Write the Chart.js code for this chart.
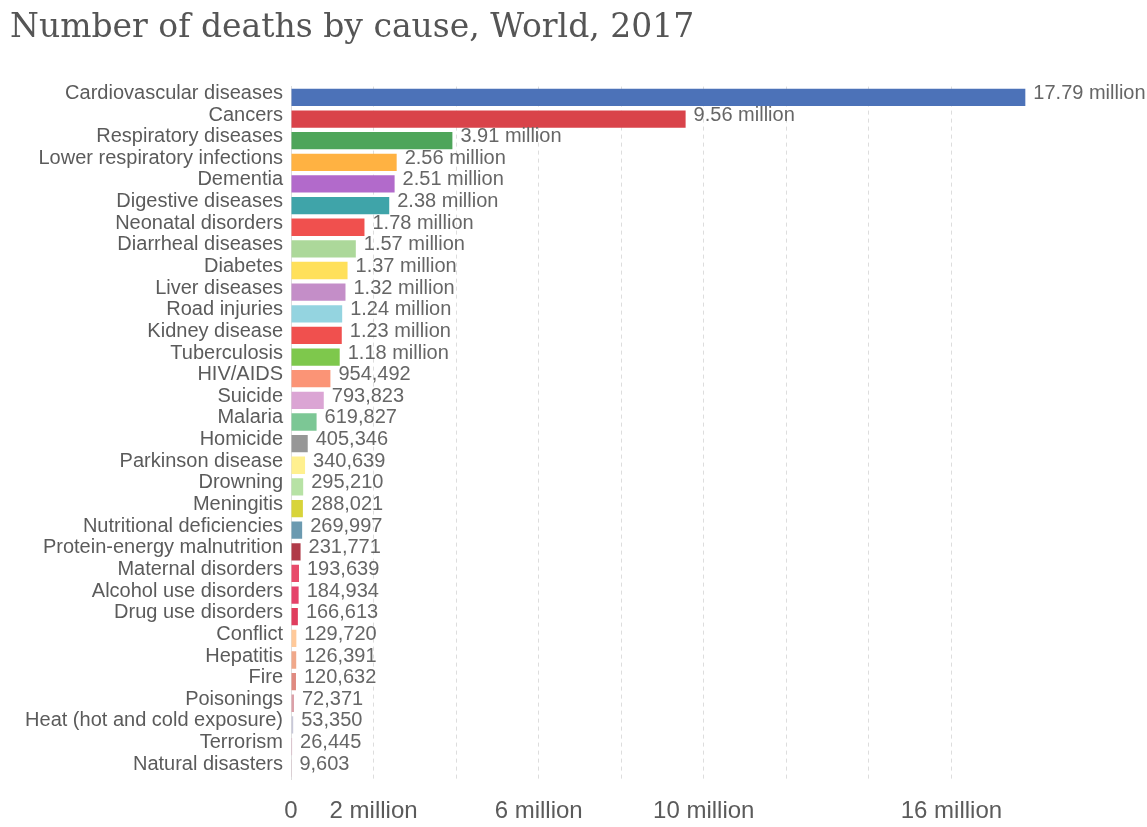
<!DOCTYPE html>
<html>
<head>
<meta charset="utf-8">
<script src="https://cdn.jsdelivr.net/npm/chart.js@4"></script>
<style>
  html, body { margin: 0; padding: 0; background: #fff; }
  #wrap { width: 1147px; height: 827px; }
</style>
</head>
<body>
<div id="wrap"><canvas id="deaths-chart"></canvas></div>
<script>
const causes = ["Cardiovascular diseases", "Cancers", "Respiratory diseases", "Lower respiratory infections",
    "Dementia", "Digestive diseases", "Neonatal disorders", "Diarrheal diseases", "Diabetes", "Liver diseases",
    "Road injuries", "Kidney disease", "Tuberculosis", "HIV/AIDS", "Suicide", "Malaria", "Homicide",
    "Parkinson disease", "Drowning", "Meningitis", "Nutritional deficiencies", "Protein-energy malnutrition",
    "Maternal disorders", "Alcohol use disorders", "Drug use disorders", "Conflict", "Hepatitis", "Fire",
    "Poisonings", "Heat (hot and cold exposure)", "Terrorism", "Natural disasters"];

const deaths = [17790000, 9560000, 3910000, 2560000, 2510000, 2380000, 1780000, 1570000, 1370000, 1320000,
    1240000, 1230000, 1180000, 954492, 793823, 619827, 405346, 340639, 295210, 288021, 269997, 231771,
    193639, 184934, 166613, 129720, 126391, 120632, 72371, 53350, 26445, 9603];

const barColors = ["#4c72b8", "#d9434a", "#4ea55a", "#ffb242", "#b26acb", "#3fa4a9", "#f0504e", "#acd89a",
    "#ffe05a", "#c48ec8", "#94d4e0", "#f0504e", "#7ec84c", "#fb9476", "#dba5d4", "#7cc795", "#979797",
    "#fff08f", "#b7e2a5", "#d8d43a", "#6b9ab0", "#b03a48", "#e84b6a", "#e5436a", "#e03e5e", "#ffc99a",
    "#f0a88a", "#e08a80", "#dba0a8", "#c8c8d8", "#d8b0c0", "#c06080"];

const shownTicks = [0, 2, 6, 10, 16];

function fmt(v) {
    if (v >= 1e6) return (v / 1e6).toFixed(2) + " million";
    return v.toLocaleString("en-US");
}

const valueLabels = {
    id: "valueLabels",
    afterDatasetsDraw(chart) {
        const ctx = chart.ctx;
        const meta = chart.getDatasetMeta(0);
        ctx.save();
        ctx.font = "20px 'Liberation Sans', Arial, sans-serif";
        ctx.fillStyle = "#666";
        ctx.textBaseline = "middle";
        ctx.textAlign = "left";
        meta.data.forEach((bar, i) => {
            ctx.fillText(fmt(deaths[i]), bar.x + 8, bar.y - 4);
        });
        ctx.restore();
    }
};

new Chart(document.getElementById("deaths-chart"), {
    type: "bar",
    data: {
        labels: causes,
        datasets: [{
            data: deaths,
            backgroundColor: barColors,
            barPercentage: 0.8,
            categoryPercentage: 1
        }]
    },
    options: {
        indexAxis: "y",
        responsive: true,
        maintainAspectRatio: false,
        animation: false,
        layout: { padding: { left: 10, right: 113, top: 0, bottom: 0 } },
        plugins: {
            legend: { display: false },
            tooltip: { enabled: false },
            title: {
                display: true,
                text: "Number of deaths by cause, World, 2017",
                align: "start",
                color: "#555",
                font: { family: "'DejaVu Serif', Georgia, serif", size: 33, weight: "normal" },
                padding: { top: 9, bottom: 38 }
            }
        },
        scales: {
            x: {
                min: 0,
                max: 18000000,
                ticks: {
                    stepSize: 2000000,
                    padding: 18,
                    color: "#5b5b5b",
                    font: { family: "'Liberation Sans', Arial, sans-serif", size: 24 },
                    maxRotation: 0,
                    autoSkip: false,
                    callback: v => {
                        const m = v / 1e6;
                        if (!shownTicks.includes(m)) return "";
                        return m === 0 ? "0" : m + " million";
                    }
                },
                grid: {
                    drawTicks: false,
                    color: c => (c.tick && (c.tick.value === 0 || c.tick.value === 18000000)) ? "rgba(0,0,0,0)" : "#ddd",
                    lineWidth: 1
                },
                border: { display: false, dash: [4, 4] },
                afterFit: s => { s.height = 48; }
            },
            y: {
                ticks: {
                    color: "#5b5b5b",
                    padding: 8,
                    labelOffset: -4,
                    autoSkip: false,
                    font: { family: "'Liberation Sans', Arial, sans-serif", size: 20 }
                },
                grid: { display: false, drawTicks: false },
                border: { display: true, color: "#ddd" },
                afterFit: s => { s.width = 281; }
            }
        }
    },
    plugins: [valueLabels]
});
</script>
</body>
</html>
